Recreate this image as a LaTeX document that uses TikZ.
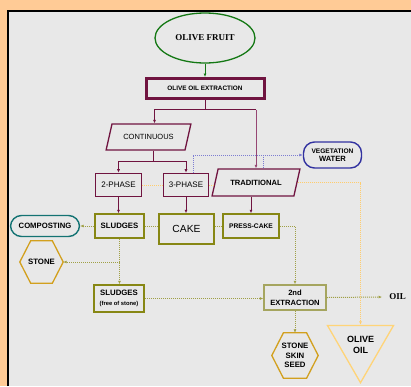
\documentclass[tikz,border=0pt]{standalone}
\usepackage{fontspec}
\setmainfont{Liberation Sans}
\newfontfamily\timesfont{Liberation Serif}
\usetikzlibrary{shapes.geometric, arrows.meta, calc}

\definecolor{bgorange}{RGB}{255,203,150}
\definecolor{panel}{RGB}{232,232,232}
\definecolor{maroon}{RGB}{112,20,64}
\definecolor{rosemaroon}{RGB}{150,70,115}
\definecolor{olive}{RGB}{135,135,20}
\definecolor{paleolive}{RGB}{165,165,95}
\definecolor{leafgreen}{RGB}{20,120,20}
\definecolor{tealgreen}{RGB}{20,115,115}
\definecolor{gold}{RGB}{210,160,30}
\definecolor{paleorange}{RGB}{255,212,120}
\definecolor{inkblue}{RGB}{50,50,160}
\definecolor{dotblue}{RGB}{125,125,210}
\definecolor{dotorange}{RGB}{255,205,110}
\definecolor{dotolive}{RGB}{160,160,70}

\newcommand{\fsz}[1]{\fontsize{#1}{#1}\selectfont}
\newcommand{\hexdraw}[2]{%
  \draw[#1] ($(#2.north west)!0.25!(#2.north east)$) -- ($(#2.north west)!0.75!(#2.north east)$)
    -- (#2.east) -- ($(#2.south west)!0.75!(#2.south east)$)
    -- ($(#2.south west)!0.25!(#2.south east)$) -- (#2.west) -- cycle;}

\begin{document}
\begin{tikzpicture}[x=1pt, y=-1pt,
    >={Latex[length=3.5pt,width=3pt]},
    phasebox/.style={rectangle, draw=maroon, line width=1.6pt, inner sep=1pt, font=\fsz{8}},
    para/.style={trapezium, trapezium left angle=60, trapezium right angle=120,
      trapezium stretches=true, draw=maroon, line width=1.3pt, inner sep=1pt},
    obox/.style={draw=olive, line width=1.5pt, inner sep=1pt, align=center, font=\bfseries\fsz{7.8}},
    pill/.style={rounded corners=11pt, line width=1.4pt, inner sep=1pt, align=center},
    hexbox/.style={inner sep=0pt, align=center, font=\bfseries\fsz{7.8}},
    mline/.style={draw=maroon, line width=0.9pt},
    odot/.style={draw=dotolive, line width=1pt, dash pattern=on 1pt off 1pt},
    ydot/.style={draw=dotorange, line width=1pt, dash pattern=on 1pt off 1pt},
    bdot/.style={draw=dotblue, line width=1pt, dash pattern=on 1pt off 1pt}]
  \useasboundingbox (0,0) rectangle (411,386);
  \fill[bgorange] (0,0) rectangle (411,386);
  \fill[panel] (7,10) rectangle (411,386);
  \draw[black, line width=2pt] (8,386) -- (8,11) -- (411,11);

  \node[ellipse, draw=leafgreen, line width=1.3pt, minimum width=100pt, minimum height=50pt,
    font=\timesfont\bfseries\fsz{9}] (fruit) at (205,38) {OLIVE FRUIT};
  \node[draw=maroon, line width=3pt, minimum width=118pt, minimum height=20pt,
    font=\bfseries\fsz{6.4}] (extract) at (205,88.5) {OLIVE OIL EXTRACTION};
  \node[para, minimum width=85pt, minimum height=26pt, font=\fsz{7.5}]
    (cont) at (148.5,137) {CONTINUOUS};
  \node[phasebox, minimum width=46pt, minimum height=23pt] (twophase) at (118.5,185) {2-PHASE};
  \node[phasebox, minimum width=45pt, minimum height=23pt] (threephase) at (186,185) {3-PHASE};
  \node[para, minimum width=88pt, minimum height=27pt, font=\bfseries\fsz{7.6}]
    (trad) at (256,182.5) {TRADITIONAL};
  \node[pill, draw=inkblue, minimum width=58pt, minimum height=26pt, font=\bfseries\fsz{6.6}]
    (veg) at (332.5,155) {VEGETATION\\[2pt]{\fsz{7.6}WATER}};

  \node[obox, minimum width=49pt, minimum height=24pt] (sludge) at (119.5,226) {SLUDGES};
  \node[obox, minimum width=55pt, minimum height=30pt, font=\fsz{10.3}]
    (cake) at (186.5,229) {CAKE};
  \node[obox, minimum width=56pt, minimum height=24pt, font=\bfseries\fsz{6.7}]
    (press) at (251,226) {PRESS-CAKE};
  \node[pill, draw=tealgreen, minimum width=69pt, minimum height=21pt, font=\bfseries\fsz{7.7}]
    (compost) at (45,226) {COMPOSTING};
  \node[hexbox, minimum width=43pt, minimum height=42pt] (stone) at (41.5,262) {STONE};
  \hexdraw{gold, line width=1.3pt}{stone}

  \node[obox, minimum width=50pt, minimum height=27pt] (free) at (119,298.5)
    {SLUDGES\\[2pt]{\fsz{5.8}(free of stone)}};
  \node[obox, draw=paleolive, minimum width=62pt, minimum height=25pt, font=\bfseries\fsz{7.6}]
    (second) at (295,297.5) {2nd\\[2pt]EXTRACTION};
  \node[font=\timesfont\bfseries\fsz{9}, inner sep=1pt] (oil) at (397.5,297) {OIL};
  \node[hexbox, minimum width=46pt, minimum height=45pt] (seed) at (295,355.5)
    {STONE\\[2pt]SKIN\\[2pt]SEED};
  \hexdraw{gold, line width=1.3pt}{seed}
  \node[regular polygon, regular polygon sides=3, shape border rotate=180, draw=paleorange,
    line width=1.3pt, minimum size=74pt, inner sep=0pt, align=center, font=\bfseries\fsz{9}]
    (oliveoil) at (360.5,344.5) {OLIVE\\[2pt]OIL};

  \draw[->, leafgreen, line width=0.9pt] (fruit) -- (extract);
  \draw[mline] (extract.south) -- ++(0,9.5) coordinate (exsplit);
  \draw[mline, ->] (exsplit) -| ([xshift=6pt]cont.north);
  \draw[mline] (exsplit) -- (exsplit -| trad.north);
  \draw[->, rosemaroon, line width=0.9pt] (exsplit -| trad.north) -- (trad.north);
  \draw[mline] ([xshift=5pt]cont.south) -- ++(0,11) coordinate (contsplit);
  \draw[mline, ->] (contsplit) -| (twophase.north);
  \draw[mline, ->] (contsplit) -| (threephase.north);
  \draw[mline, ->] (twophase.south) -- (twophase.south |- sludge.north);
  \draw[mline, ->] (threephase.south) -- (threephase.south |- cake.north);
  \draw[mline, ->] (press.north |- trad.south) -- (press.north);

  \draw[bdot, ->] ([xshift=7pt]threephase.north) |- (veg.west);
  \draw[bdot] ([xshift=7pt]trad.north) -- ([xshift=7pt]trad.north |- veg.west);

  \draw[ydot] (twophase.east) -- (threephase.west);
  \draw[ydot] (threephase.east) -- (threephase.east -| trad.west);
  \draw[ydot, ->] (trad.east) -| (oliveoil.north);

  \draw[odot] (sludge.east) -- (sludge.east -| cake.west);
  \draw[odot] (press.west -| cake.east) -- (press.west);
  \draw[odot, ->] (press.east) -| (second.north);
  \draw[odot, ->] (sludge.west) -- (compost.east);
  \draw[odot, ->] (sludge.south) -- (sludge.south |- free.north);
  \draw[odot, ->] (sludge.south |- stone.east) -- (stone.east);
  \draw[odot, ->] (free.east) -- (free.east -| second.west);
  \draw[odot, ->] (second.east) -- ([xshift=-6pt]oil.west);
  \draw[odot, ->] (second.south) -- (seed.north);
\end{tikzpicture}
\end{document}
